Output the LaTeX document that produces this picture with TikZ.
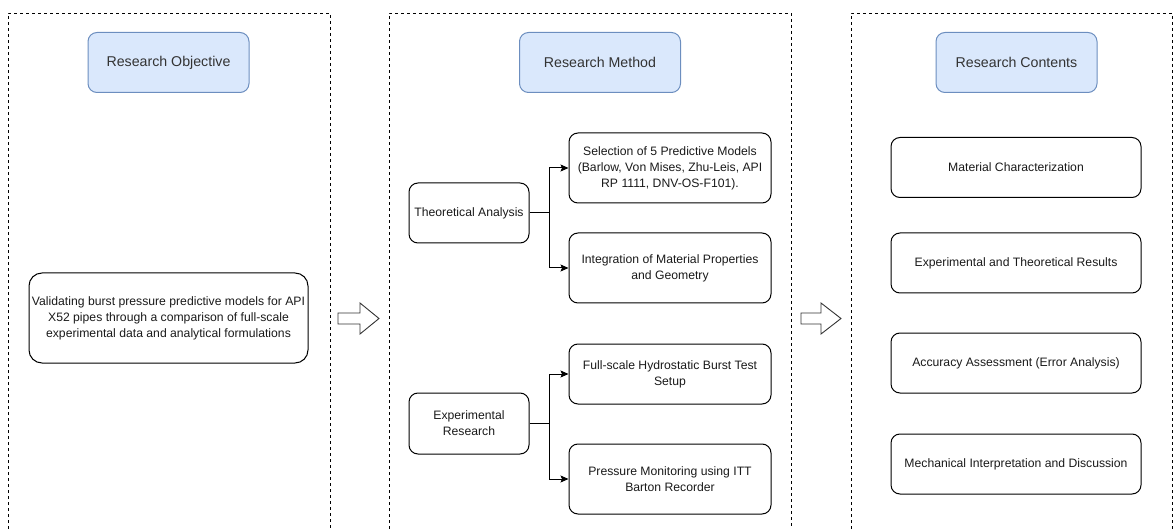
\documentclass[tikz,border=0pt]{standalone}
\usepackage{fontspec}
\setmainfont{Liberation Sans}
\usetikzlibrary{arrows.meta}
\definecolor{hdrfill}{HTML}{DAE8FC}
\definecolor{hdrline}{HTML}{6C8EBF}
\definecolor{hdrtext}{HTML}{333333}
\definecolor{bodytext}{HTML}{1A1A1A}
\tikzset{
  panel/.style={draw=black, line width=0.9pt, dash pattern=on 3pt off 3pt},
  hdr/.style={draw=hdrline, fill=hdrfill, line width=1pt, rounded corners=9pt,
    minimum width=161pt, minimum height=60pt, inner sep=0pt,
    text=hdrtext, font=\fontsize{14.2}{16}\selectfont},
  box/.style={draw=black, line width=1pt, rounded corners=9pt, inner sep=0pt,
    align=center, text=bodytext, font=\fontsize{12.2}{16}\selectfont},
  conn/.style={draw=black, line width=1pt, -{Stealth[length=8pt,width=7pt,inset=1.5pt]}},
  blockarrow/.style={draw=black!80, line width=0.9pt, fill=white, line join=miter},
}
\begin{document}
\begin{tikzpicture}[x=1pt,y=-1pt]
\useasboundingbox (0,0) rectangle (1175,529);
% panels
\draw[panel] (8,529) -- (8,13) -- (330,13) -- (330,529);
\draw[panel] (389,529) -- (389,13) -- (791,13) -- (791,529);
\draw[panel] (851,529) -- (851,13) -- (1172,13) -- (1172,529);
% headers
\node[hdr] (hobj) at (168.5,62.5) {Research Objective};
\node[hdr] (hmet) at (600,62.5) {Research Method};
\node[hdr] (hcon) at (1016.5,62.5) {Research Contents};
% objective
\node[box, rounded corners=13pt, minimum width=279pt, minimum height=90pt] (obj) at (168.5,318)
  {Validating burst pressure predictive models for API\\X52 pipes through a comparison of full-scale\\experimental data and analytical formulations};
% method
\node[box, minimum width=120pt, minimum height=60pt] (ta) at (469,213) {Theoretical Analysis};
\node[box, minimum width=120pt, minimum height=61pt] (er) at (469,423.5) {Experimental\\Research};
\node[box, minimum width=202pt, minimum height=70pt] (sel) at (670,168)
  {Selection of 5 Predictive Models\\(Barlow, Von Mises, Zhu-Leis, API\\RP 1111, DNV-OS-F101).};
\node[box, minimum width=202pt, minimum height=70pt] (int) at (670,268)
  {Integration of Material Properties\\and Geometry};
\node[box, minimum width=202pt, minimum height=60pt] (fs) at (670,374)
  {Full-scale Hydrostatic Burst Test\\Setup};
\node[box, minimum width=202pt, minimum height=70pt] (pm) at (670,479)
  {Pressure Monitoring using ITT\\Barton Recorder};
\coordinate (tb) at (549,213);
\coordinate (eb) at (549,423.5);
\draw[line width=1pt] (ta.east) -- (tb);
\draw[conn] (tb) |- (sel.west);
\draw[conn] (tb) |- (int.west);
\draw[line width=1pt] (er.east) -- (eb);
\draw[conn] (eb) |- (fs.west);
\draw[conn] (eb) |- (pm.west);
% contents
\node[box, minimum width=250pt, minimum height=60pt] (c1) at (1016,167.5) {Material Characterization};
\node[box, minimum width=250pt, minimum height=60pt] (c2) at (1016,263) {Experimental and Theoretical Results};
\node[box, minimum width=250pt, minimum height=60pt] (c3) at (1016,363) {Accuracy Assessment (Error Analysis)};
\node[box, minimum width=250pt, minimum height=60pt] (c4) at (1016,464) {Mechanical Interpretation and Discussion};
% block arrows
\draw[blockarrow] (338,313) -- (360,313) -- (360,303) -- (379,318.5) -- (360,334) -- (360,324) -- (338,324) -- cycle;
\draw[blockarrow] (801,313) -- (821,313) -- (821,303) -- (841,318.5) -- (821,334) -- (821,324) -- (801,324) -- cycle;
\end{tikzpicture}
\end{document}
